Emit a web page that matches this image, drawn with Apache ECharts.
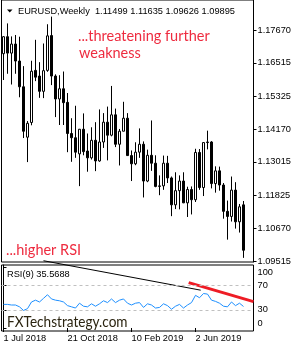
<!DOCTYPE html>
<html><head><meta charset="utf-8">
<script src="https://cdn.jsdelivr.net/npm/echarts@6.0.0/dist/echarts.min.js"></script>
<style>html,body{margin:0;padding:0;background:#fff}#c{width:300px;height:350px}</style>
</head><body><div id="c"></div>
<script>
// ---- data ----
const symbol = 'EURUSD';
const period = 'Weekly';
const weeks = ['1 Jul 2018','8 Jul 2018','15 Jul 2018','22 Jul 2018','29 Jul 2018','5 Aug 2018','12 Aug 2018','19 Aug 2018','26 Aug 2018',
'2 Sep 2018','9 Sep 2018','16 Sep 2018','23 Sep 2018','30 Sep 2018','7 Oct 2018','14 Oct 2018','21 Oct 2018','28 Oct 2018',
'4 Nov 2018','11 Nov 2018','18 Nov 2018','25 Nov 2018','2 Dec 2018','9 Dec 2018','16 Dec 2018','23 Dec 2018','30 Dec 2018',
'6 Jan 2019','13 Jan 2019','20 Jan 2019','27 Jan 2019','3 Feb 2019','10 Feb 2019','17 Feb 2019','24 Feb 2019',
'3 Mar 2019','10 Mar 2019','17 Mar 2019','24 Mar 2019','31 Mar 2019','7 Apr 2019','14 Apr 2019','21 Apr 2019','28 Apr 2019',
'5 May 2019','12 May 2019','19 May 2019','26 May 2019','2 Jun 2019','9 Jun 2019','16 Jun 2019','23 Jun 2019','30 Jun 2019',
'7 Jul 2019','14 Jul 2019','21 Jul 2019','28 Jul 2019','4 Aug 2019','11 Aug 2019','18 Aug 2019','25 Aug 2019',
'1 Sep 2019','8 Sep 2019'];
const openP  = [1.1684,1.1744,1.1686,1.1718,1.1658,1.1567,1.1389,1.1441,1.1625,1.1605,1.1551,1.1625,1.1748,1.1605,1.1524,1.1560,1.1512,1.1402,1.1387,1.1330,1.1417,1.1340,1.1316,1.1378,1.1305,1.1372,1.1442,1.1396,1.1468,1.1364,1.1410,1.1456,1.1324,1.1295,1.1336,1.1364,1.1234,1.1325,1.1297,1.1215,1.1217,1.1297,1.1245,1.1150,1.1200,1.1234,1.1157,1.1204,1.1168,1.1335,1.1211,1.1370,1.1372,1.1225,1.1270,1.1220,1.1127,1.1109,1.1202,1.1090,1.11499];
const highP  = [1.1746,1.1791,1.1745,1.1750,1.1744,1.1640,1.1446,1.1659,1.1733,1.1654,1.1720,1.1788,1.1815,1.1611,1.1608,1.1621,1.1545,1.1456,1.1500,1.1418,1.1473,1.1402,1.1424,1.1442,1.1487,1.1474,1.1497,1.1570,1.1490,1.1418,1.1514,1.1474,1.1342,1.1371,1.1420,1.1374,1.1345,1.1448,1.1325,1.1254,1.1324,1.1323,1.1250,1.1265,1.1254,1.1265,1.1214,1.1215,1.1348,1.1347,1.1370,1.1412,1.1375,1.1286,1.1285,1.1227,1.1165,1.1250,1.1230,1.1153,1.11635];
const lowP   = [1.1591,1.1613,1.1575,1.1613,1.1530,1.1386,1.1301,1.1431,1.1587,1.1528,1.1527,1.1620,1.1573,1.1460,1.1432,1.1432,1.1336,1.1302,1.1316,1.1216,1.1325,1.1267,1.1310,1.1269,1.1302,1.1351,1.1307,1.1392,1.1354,1.1289,1.1410,1.1323,1.1234,1.1290,1.1316,1.1176,1.1230,1.1270,1.1212,1.1184,1.1203,1.1227,1.1110,1.1135,1.1134,1.1156,1.1107,1.1116,1.1160,1.1203,1.1181,1.1346,1.1208,1.1193,1.1200,1.1101,1.1027,1.1091,1.1066,1.1052,1.09626];
const closeP = [1.1744,1.1686,1.1718,1.1658,1.1567,1.1410,1.1438,1.1622,1.1601,1.1551,1.1624,1.1747,1.1605,1.1524,1.1560,1.1511,1.1402,1.1387,1.1336,1.1417,1.1338,1.1316,1.1378,1.1305,1.1372,1.1442,1.1396,1.1468,1.1364,1.1410,1.1456,1.1324,1.1295,1.1336,1.1364,1.1234,1.1325,1.1297,1.1215,1.1217,1.1297,1.1245,1.1150,1.1200,1.1234,1.1157,1.1204,1.1168,1.1335,1.1211,1.1370,1.1372,1.1225,1.1270,1.1220,1.1127,1.1109,1.1202,1.1090,1.1143,1.09895];
const rsi9   = [39,39,38,38,35,29,32,43,46,43,49,55,48,46,45,43,37,35,33,41,36,35,40,36,40,45,42,48,42,46,48,41,38,41,42,34,40,38,33,34,40,37,31,36,39,33,38,42,54,50,57,56,46,44,41,36,35,43,37,41,35.5688];
const priceTicks = [1.17670,1.16515,1.15325,1.14170,1.13015,1.11825,1.10670,1.09515];
const rsiTicks = [0,30,70,100];
const rsiLevels = [30,70];
const dateTickIdx = [0,16,32,48];
const rsiTrendBlack = [[10,111.2],[49.3,62.5]];
const rsiTrendRed = [[46.3,75],[62.5,43.5]];

// ---- chart ----
const F = 'Liberation Sans';
const FS = 9.25;
const last = closeP.length - 1;
const f5 = v => v.toFixed(5);
const candles = openP.map((o, i) => [o, closeP[i], lowP[i], highP[i]]);
const chart = echarts.init(document.getElementById('c'), null, {renderer: 'canvas'});
chart.setOption({
  animation: false,
  backgroundColor: '#fff',
  grid: [
    {left: 1.5, top: -1, width: 252, height: 263, show: true, borderColor: '#000', borderWidth: 1, backgroundColor: 'transparent'},
    {left: 1.5, top: 265, width: 252, height: 66, show: true, borderColor: '#000', borderWidth: 1, backgroundColor: 'transparent'}
  ],
  xAxis: [
    {type: 'category', gridIndex: 0, data: weeks, boundaryGap: true, axisLine: {show: false}, axisTick: {show: false}, axisLabel: {show: false}, splitLine: {show: false}},
    {type: 'category', gridIndex: 1, data: weeks, boundaryGap: true, axisLine: {show: false},
      axisTick: {show: true, alignWithLabel: true, length: 4, interval: i => dateTickIdx.includes(i), lineStyle: {color: '#000'}},
      axisLabel: {show: true, interval: i => dateTickIdx.includes(i), align: 'left', margin: 3, fontFamily: F, fontSize: FS, color: '#000'},
      splitLine: {show: false}},
    {type: 'value', gridIndex: 1, show: false, min: -0.5, max: 62.5}
  ],
  yAxis: [
    {type: 'value', gridIndex: 0, position: 'right', min: 1.094798, max: 1.187365, splitLine: {show: false},
      axisLine: {show: true, lineStyle: {color: '#000'}},
      axisTick: {show: true, length: 3, customValues: priceTicks, lineStyle: {color: '#000'}},
      axisLabel: {show: true, customValues: priceTicks, formatter: v => f5(v), margin: 4, fontFamily: F, fontSize: FS, color: '#000'}},
    {type: 'value', gridIndex: 1, position: 'right', min: -4.96, max: 104.13, splitLine: {show: false},
      axisLine: {show: true, lineStyle: {color: '#000'}},
      axisTick: {show: true, length: 3, customValues: rsiTicks, lineStyle: {color: '#000'}},
      axisLabel: {show: true, customValues: rsiTicks, margin: 4, fontFamily: F, fontSize: FS, color: '#000',
        formatter: v => v === 100 ? '{t|100}' : (v === 0 ? '{b|0}' : String(v)),
        rich: {t: {padding: [9, 0, 0, 0], fontFamily: F, fontSize: FS}, b: {padding: [0, 0, 9, 0], fontFamily: F, fontSize: FS}}}}
  ],
  series: [
    {type: 'candlestick', xAxisIndex: 0, yAxisIndex: 0, data: candles, barWidth: 3,
      itemStyle: {color: '#fff', color0: '#000', borderColor: '#000', borderColor0: '#000', borderWidth: 1},
      markLine: {silent: true, symbol: 'none', lineStyle: {opacity: 0},
        label: {show: true, position: 'end', distance: 2, formatter: () => f5(closeP[last]), backgroundColor: '#000', color: '#fff', padding: [1, 3, 0, 3], fontFamily: F, fontSize: FS},
        data: [{yAxis: closeP[last]}]}},
    {type: 'line', xAxisIndex: 1, yAxisIndex: 1, data: rsi9, symbol: 'none', lineStyle: {color: '#1e90ff', width: 1}, itemStyle: {color: '#1e90ff'},
      markLine: {silent: true, symbol: 'none', label: {show: false}, lineStyle: {color: '#c0c0c0', type: [3, 3], width: 1},
        data: rsiLevels.map(v => ({yAxis: v}))}},
    {type: 'line', xAxisIndex: 2, yAxisIndex: 1, data: rsiTrendBlack, symbol: 'none', clip: false, lineStyle: {color: '#000', width: 1}},
    {type: 'line', xAxisIndex: 2, yAxisIndex: 1, data: rsiTrendRed, symbol: 'none', clip: false, lineStyle: {color: '#ee1c25', width: 3}}
  ],
  graphic: [
    {type: 'polygon', shape: {points: [[7, 9.5], [12.5, 9.5], [9.75, 12.5]]}, style: {fill: '#000'}},
    {type: 'text', x: 18, y: 11, style: {text: symbol + ',' + period + '  ' + [openP[last], highP[last], lowP[last], closeP[last]].map(f5).join(' '), font: FS + 'px "' + F + '"', fill: '#000', verticalAlign: 'middle'}},
    {type: 'text', x: 78, y: 36, style: {text: '...threatening further', font: '14.5px Lato', fill: '#ee2b3f', verticalAlign: 'middle'}},
    {type: 'text', x: 79, y: 53, style: {text: 'weakness', font: '14.5px Lato', fill: '#ee2b3f', verticalAlign: 'middle'}},
    {type: 'text', x: 6, y: 250, style: {text: '...higher RSI', font: '14.5px Lato', fill: '#ee2b3f', verticalAlign: 'middle'}},
    {type: 'text', x: 7, y: 274.5, style: {text: 'RSI(9) ' + rsi9[last].toFixed(4), font: FS + 'px "' + F + '"', fill: '#000', verticalAlign: 'middle'}},
    {type: 'text', x: 7, y: 322, scaleX: 0.85, style: {text: 'FXTechstrategy.com', font: '16px Lato', fill: '#2b2410', verticalAlign: 'middle'}}
  ]
});
</script></body></html>
